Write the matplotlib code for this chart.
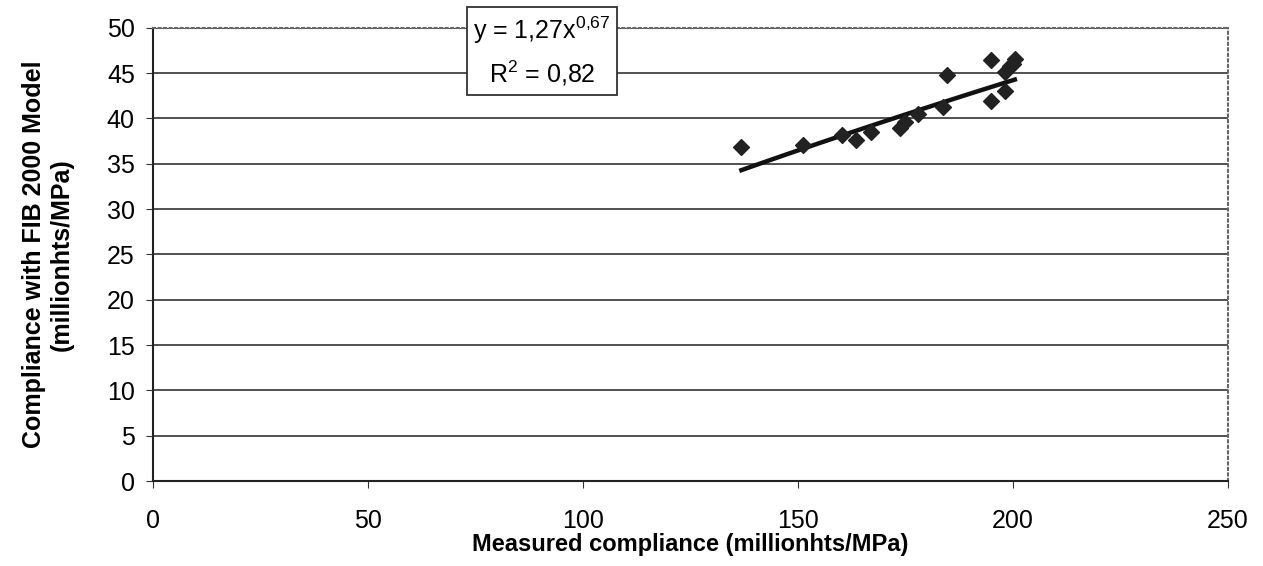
import numpy as np
import matplotlib.pyplot as plt

plt.rcParams['font.family'] = ['Liberation Sans', 'DejaVu Sans']
plt.rcParams['mathtext.fontset'] = 'custom'
plt.rcParams['mathtext.rm'] = 'Liberation Sans'

# measured vs model compliance (millionths/MPa)
measured = [136.9, 151.2, 160.2, 163.6, 167.1, 173.7, 174.9, 178.0, 183.8, 184.8,
            195.0, 198.1, 195.0, 198.1, 199.3, 200.5, 200.0]
model = [36.8, 37.1, 38.2, 37.6, 38.5, 38.9, 39.6, 40.5, 41.3, 44.8,
         41.9, 43.0, 46.4, 45.1, 45.8, 46.6, 46.0]

# power trendline reported on the chart
coef_a = 1.27
coef_b = 0.67

fig = plt.figure(figsize=(12.63, 5.66), dpi=100)
ax = fig.add_axes([0.121, 0.150, 0.851, 0.801])

ax.set_xlim(0, 250)
ax.set_ylim(0, 50)
ax.set_xticks(np.arange(0, 251, 50))
ax.set_yticks(np.arange(0, 51, 5))
ax.yaxis.grid(True, color='#333333', linewidth=1.2)
ax.set_axisbelow(True)

for side in ['top', 'right']:
    ax.spines[side].set_linestyle(':')
    ax.spines[side].set_color('#666666')
    ax.spines[side].set_linewidth(1.5)
for side in ['left', 'bottom']:
    ax.spines[side].set_color('#222222')
    ax.spines[side].set_linewidth(1.5)

xs = np.linspace(min(measured), max(measured), 50)
ax.plot(xs, coef_a * xs ** coef_b, color='#111111', linewidth=3.2, zorder=3)
ax.scatter(measured, model, marker='D', s=65, color='#222222', zorder=4)

ax.tick_params(axis='both', labelsize=18, length=5, color='#333333')
ax.tick_params(axis='x', pad=15)
ax.tick_params(axis='y', pad=8)
ax.set_xlabel('Measured compliance (millionhts/MPa)', fontsize=17, fontweight='bold', labelpad=0)
ax.set_ylabel('Compliance with FIB 2000 Model\n(millionhts/MPa)', fontsize=18,
              fontweight='bold', labelpad=24, linespacing=1.2)

fig.text(0.429, 0.909, 'y = 1,27x$^{\\mathrm{0{,}67}}$\nR$^{\\mathrm{2}}$ = 0,82', fontsize=18,
         ha='center', va='center', linespacing=1.55,
         bbox=dict(boxstyle='square,pad=0.25', facecolor='white', edgecolor='#333333', linewidth=1.3))

fig.savefig('out.png', dpi=100)
